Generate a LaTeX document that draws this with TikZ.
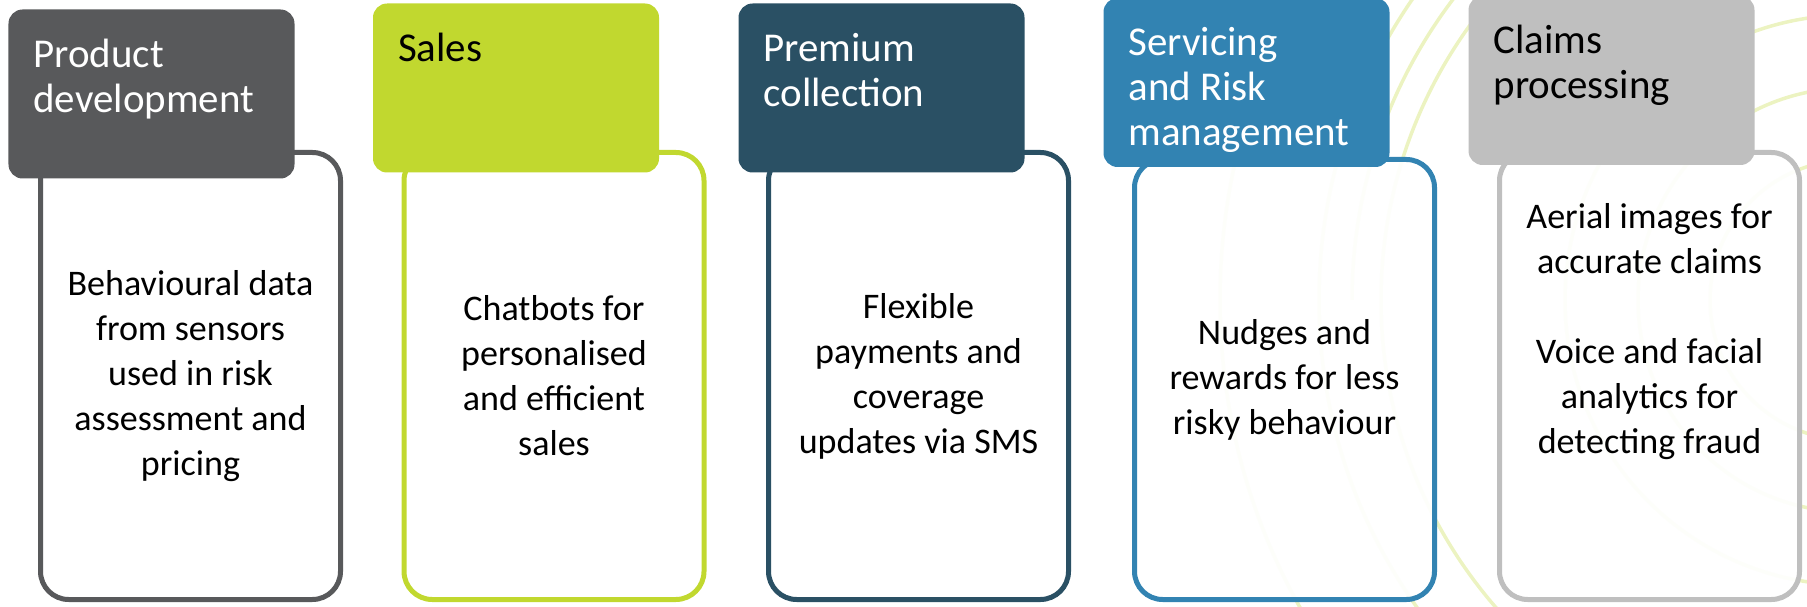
\documentclass[tikz,border=0pt]{standalone}
\usepackage{fontspec}
\setmainfont{Carlito}
\usepackage{xcolor}
\definecolor{ProdGray}{HTML}{58595B}
\definecolor{SalesLime}{HTML}{C1D82F}
\definecolor{PremTeal}{HTML}{2A5064}
\definecolor{ServBlue}{HTML}{3283B2}
\definecolor{ClaimGray}{HTML}{BFBFBF}
\usepackage{tikz}
\usetikzlibrary{positioning, calc}
\tikzset{
  headbox/.style={rectangle, rounded corners=8pt, minimum width=5.72cm, minimum height=3.38cm, inner sep=0pt},
  headtext/.style={anchor=base west, inner sep=0pt, align=left, font=\fontsize{23.3}{25.6}\selectfont},
  bodybox/.style={rectangle, rounded corners=16pt, line width=0.1cm, fill=white, fill opacity=0.93, minimum width=6cm, minimum height=8.94cm},
  bodytext/.style={align=center, inner sep=0pt, font=\fontsize{20.5}{25.6}\selectfont},
  ring/.style={SalesLime!30, line width=0.07cm}
}

\begin{document}
\begin{tikzpicture}
  \useasboundingbox (0,0) rectangle (36.14,12.12);

  % faint rings in the background
  \coordinate (ringc) at (37,6.12);
  \begin{scope}
    \clip (0,0) rectangle (36.14,12.12);
    \foreach \r in {2.8,4.24,5.7,9.38,10.62,12.6}
      \draw[ring] (ringc) circle[radius=\r];
  \end{scope}
  \begin{scope}
    \clip (0,6.12) rectangle (36.14,12.12);
    \draw[ring] (ringc) circle[radius=9.96];
  \end{scope}

  % column outlines
  \node[bodybox, draw=ProdGray] (prodbody) at (3.81,4.60) {};
  \node[bodybox, draw=SalesLime] (salesbody) at (11.08,4.60) {};
  \node[bodybox, draw=PremTeal] (prembody) at (18.37,4.60) {};
  \node[bodybox, draw=ServBlue, minimum height=8.8cm] (servbody) at (25.69,4.53) {};
  \node[bodybox, draw=ClaimGray] (claimbody) at (32.99,4.60) {};

  % column headers
  \node[headbox, fill=ProdGray] (prodhead) at (3.03,10.24) {};
  \node[headbox, fill=SalesLime] (saleshead) at (10.32,10.36) {};
  \node[headbox, fill=PremTeal] (premhead) at (17.63,10.36) {};
  \node[headbox, fill=ServBlue] (servhead) at (24.93,10.47) {};
  \node[headbox, fill=ClaimGray] (claimhead) at (32.23,10.51) {};

  % base anchor sits on the last line, so step down 0.9cm per extra line
  \node[headtext, text=white] at ([shift={(0.5,-2.06)}]prodhead.north west) {Product\\development};
  \node[headtext, text=black] at ([shift={(0.5,-1.16)}]saleshead.north west) {Sales};
  \node[headtext, text=white] at ([shift={(0.5,-2.06)}]premhead.north west) {Premium\\collection};
  \node[headtext, text=white] at ([shift={(0.5,-2.96)}]servhead.north west) {Servicing\\and Risk\\management};
  \node[headtext, text=black] at ([shift={(0.5,-2.06)}]claimhead.north west) {Claims\\processing};

  % column texts
  \node[bodytext] at (prodbody) {Behavioural data\\from sensors\\used in risk\\assessment and\\pricing};
  \node[bodytext] at (salesbody) {Chatbots for\\personalised\\and efficient\\sales};
  \node[bodytext] at (prembody) {Flexible\\payments and\\coverage\\updates via SMS};
  \node[bodytext] at (servbody) {Nudges and\\rewards for less\\risky behaviour};
  \node[bodytext] at ([yshift=0.88cm]claimbody.center) {Aerial images for\\accurate claims\\[0.9cm]Voice and facial\\analytics for\\detecting fraud};
\end{tikzpicture}
\end{document}
